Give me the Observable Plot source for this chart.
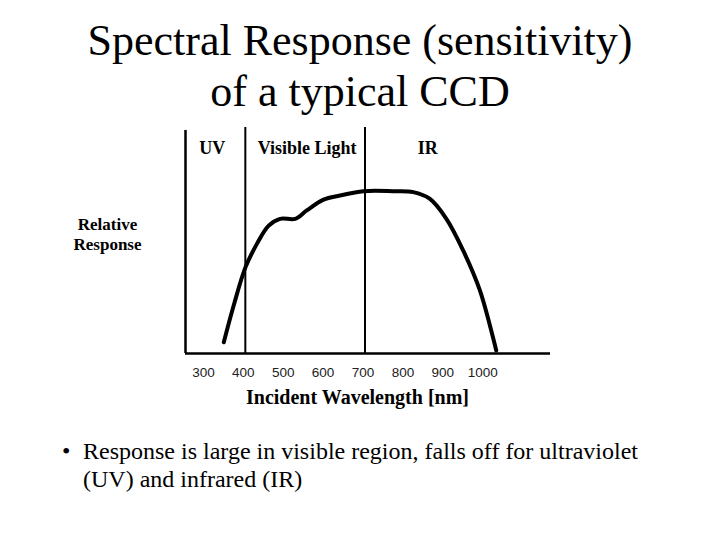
<!DOCTYPE html>
<html>
<head>
<meta charset="utf-8">
<script src="https://cdn.jsdelivr.net/npm/d3@7"></script>
<script src="https://cdn.jsdelivr.net/npm/@observablehq/plot@0.6"></script>
<style>
  html, body { margin: 0; padding: 0; background: #fff; }
  #wrap { position: relative; width: 720px; height: 540px; overflow: hidden; font-family: "Liberation Serif", "Times New Roman", "DejaVu Serif", serif; color: #000; }
  #title { position: absolute; left: 0; top: 15px; width: 720px; text-align: center; font-size: 44px; line-height: 51px; }
  #bullet { position: absolute; left: 62px; top: 437px; width: 640px; font-size: 24px; line-height: 28px; }
  #bullet .b { position: absolute; left: 0; top: 0; }
  #bullet .t { margin-left: 21px; }
  #chart { position: absolute; left: 0; top: 0; }
</style>
</head>
<body>
<div id="wrap">
  <div id="chart"></div>
  <div id="title">Spectral Response (sensitivity)<br>of a typical CCD</div>
  <div id="bullet"><span class="b">•</span><div class="t">Response is large in visible region, falls off for ultraviolet<br>(UV) and infrared (IR)</div></div>
</div>
<script>
// Curve: wavelength (nm) vs relative response
const wavelength = [346, 372, 400, 429, 458, 487, 525, 554, 596, 637, 696, 771, 821, 862, 904, 946, 988, 1029];
const response   = [0.05, 0.22, 0.38, 0.485, 0.565, 0.596, 0.596, 0.633, 0.681, 0.699, 0.718, 0.718, 0.714, 0.685, 0.596, 0.456, 0.279, 0.013];

const xTicks = [300, 400, 500, 600, 700, 800, 900, 1000];
const boundaries = [400, 700];
const regionNames = ["UV", "Visible Light", "IR"];
const regionCenters = [317, 555, 857];

const curve = wavelength.map((w, i) => ({w, r: response[i]}));
const regions = regionNames.map((name, i) => ({name, x: regionCenters[i]}));

const chart = Plot.plot({
  width: 720,
  height: 540,
  marginLeft: 185,
  marginRight: 170,
  marginTop: 127,
  marginBottom: 187,
  style: {background: "transparent", fontFamily: "'Liberation Serif', 'Times New Roman', serif"},
  x: {domain: [250, 1165], label: null},
  y: {domain: [0, 1], axis: null},
  marks: [
    Plot.ruleX(boundaries, {y1: 0, y2: 1, stroke: "#000", strokeWidth: 2}),
    Plot.ruleX([250], {y1: 0, y2: 0.987, stroke: "#000", strokeWidth: 2.5}),
    Plot.ruleY([0], {stroke: "#000", strokeWidth: 2.5}),
    Plot.line(curve, {x: "w", y: "r", stroke: "#000", strokeWidth: 4, curve: "catmull-rom", strokeLinecap: "round"}),
    Plot.axisX({ticks: xTicks, tickFormat: d => String(d), tickSize: 0, tickPadding: 14, dx: -2, fontSize: 13.5, fontFamily: "'Liberation Sans', Arial, sans-serif", fill: "#222", label: null}),
    Plot.text(regions, {x: "x", y: 0.91, text: "name", fontSize: 18, fontWeight: "bold", fill: "#000"}),
    Plot.text(["Relative\nResponse"], {frameAnchor: "left", dx: -78, dy: -7, fontSize: 17, fontWeight: "bold", lineHeight: 1.15, fill: "#000", textAnchor: "middle"}),
    Plot.text(["Incident Wavelength [nm]"], {frameAnchor: "bottom", dx: 357 - 367.5, dy: 50, fontSize: 20, fontWeight: "bold", fill: "#000"})
  ]
});
document.getElementById("chart").appendChild(chart);
</script>
</body>
</html>
